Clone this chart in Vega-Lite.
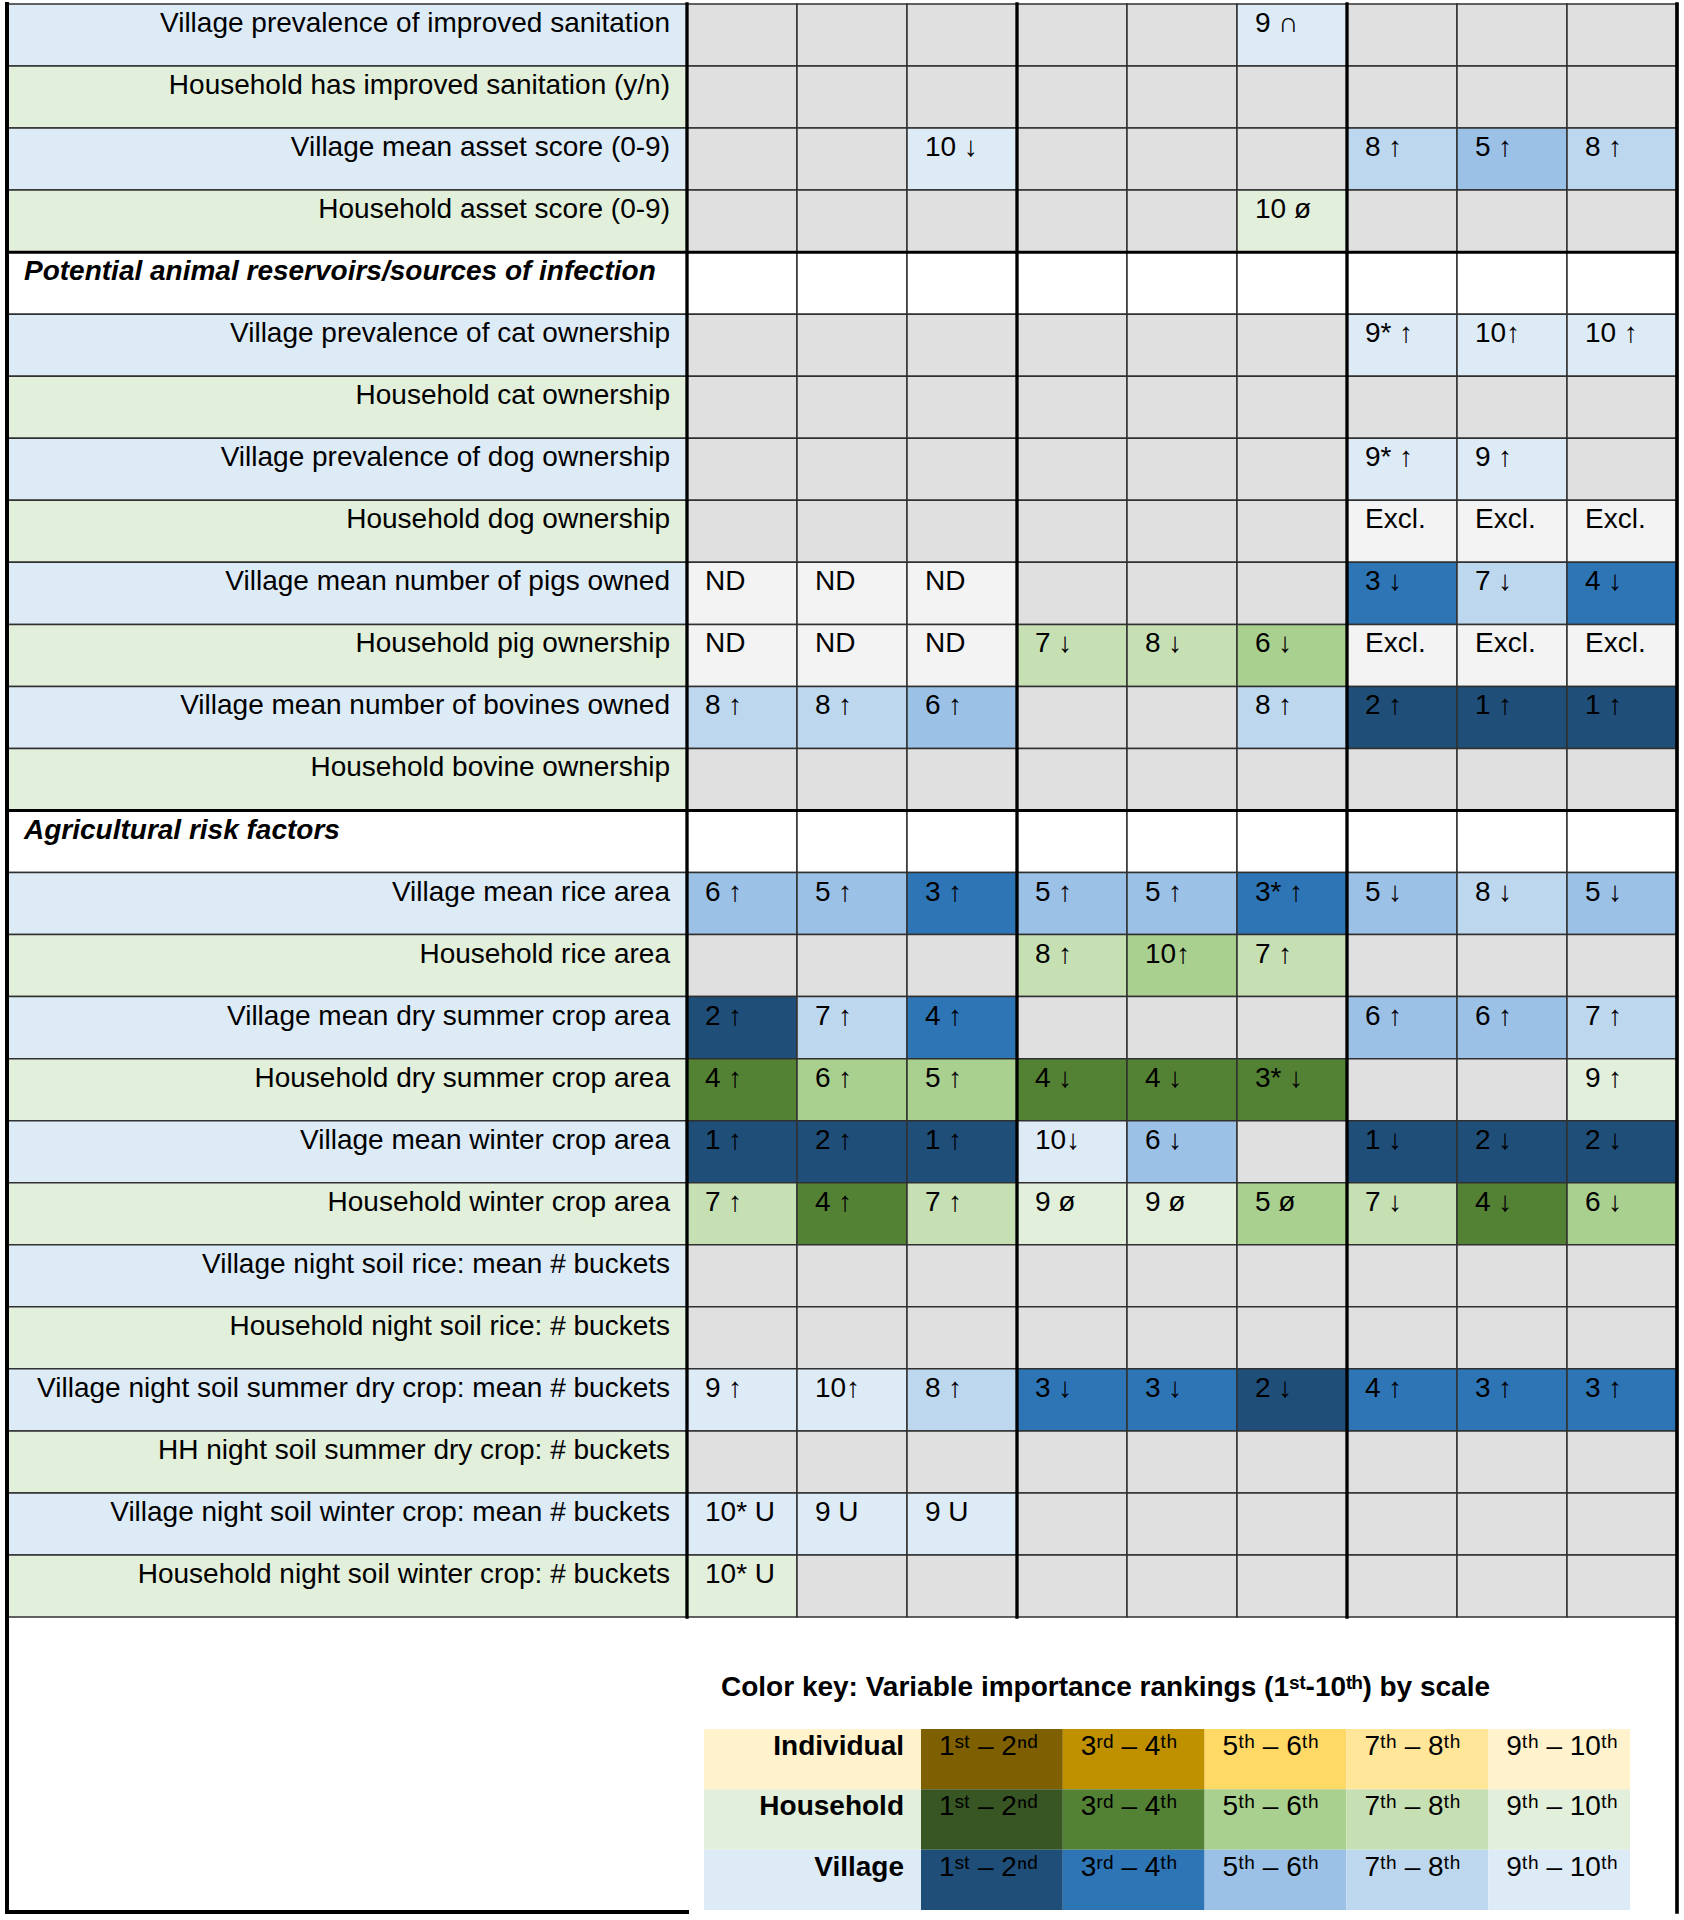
{
"$schema": "https://vega.github.io/schema/vega-lite/v6.json",
"width": 1684, "height": 1920, "padding": 0, "autosize": "none", "background": "white",
"config": {"view": {"stroke": null}, "font": "Liberation Sans", "axis": {"disable": true}, "legend": {"disable": true}},
"datasets": {
"rows": [
{"r":1,"label":"Village prevalence of improved sanitation","g":"V"},
{"r":2,"label":"Household has improved sanitation (y/n)","g":"H"},
{"r":3,"label":"Village mean asset score (0-9)","g":"V"},
{"r":4,"label":"Household asset score (0-9)","g":"H"},
{"r":5,"label":"Potential animal reservoirs/sources of infection","g":"W"},
{"r":6,"label":"Village prevalence of cat ownership","g":"V"},
{"r":7,"label":"Household cat ownership","g":"H"},
{"r":8,"label":"Village prevalence of dog ownership","g":"V"},
{"r":9,"label":"Household dog ownership","g":"H"},
{"r":10,"label":"Village mean number of pigs owned","g":"V"},
{"r":11,"label":"Household pig ownership","g":"H"},
{"r":12,"label":"Village mean number of bovines owned","g":"V"},
{"r":13,"label":"Household bovine ownership","g":"H"},
{"r":14,"label":"Agricultural risk factors","g":"W"},
{"r":15,"label":"Village mean rice area","g":"V"},
{"r":16,"label":"Household rice area","g":"H"},
{"r":17,"label":"Village mean dry summer crop area","g":"V"},
{"r":18,"label":"Household dry summer crop area","g":"H"},
{"r":19,"label":"Village mean winter crop area","g":"V"},
{"r":20,"label":"Household winter crop area","g":"H"},
{"r":21,"label":"Village night soil rice: mean # buckets","g":"V"},
{"r":22,"label":"Household night soil rice: # buckets","g":"H"},
{"r":23,"label":"Village night soil summer dry crop: mean # buckets","g":"V"},
{"r":24,"label":"HH night soil summer dry crop: # buckets","g":"H"},
{"r":25,"label":"Village night soil winter crop: mean # buckets","g":"V"},
{"r":26,"label":"Household night soil winter crop: # buckets","g":"H"}
],
"cells": [
{"r":1,"c":1,"k":"NA"},{"r":1,"c":2,"k":"NA"},{"r":1,"c":3,"k":"NA"},{"r":1,"c":4,"k":"NA"},{"r":1,"c":5,"k":"NA"},{"r":1,"c":6,"k":"V9","t":"9 ∩"},{"r":1,"c":7,"k":"NA"},{"r":1,"c":8,"k":"NA"},{"r":1,"c":9,"k":"NA"},
{"r":2,"c":1,"k":"NA"},{"r":2,"c":2,"k":"NA"},{"r":2,"c":3,"k":"NA"},{"r":2,"c":4,"k":"NA"},{"r":2,"c":5,"k":"NA"},{"r":2,"c":6,"k":"NA"},{"r":2,"c":7,"k":"NA"},{"r":2,"c":8,"k":"NA"},{"r":2,"c":9,"k":"NA"},
{"r":3,"c":1,"k":"NA"},{"r":3,"c":2,"k":"NA"},{"r":3,"c":3,"k":"V9","t":"10 ↓"},{"r":3,"c":4,"k":"NA"},{"r":3,"c":5,"k":"NA"},{"r":3,"c":6,"k":"NA"},{"r":3,"c":7,"k":"V7","t":"8 ↑"},{"r":3,"c":8,"k":"V5","t":"5 ↑"},{"r":3,"c":9,"k":"V7","t":"8 ↑"},
{"r":4,"c":1,"k":"NA"},{"r":4,"c":2,"k":"NA"},{"r":4,"c":3,"k":"NA"},{"r":4,"c":4,"k":"NA"},{"r":4,"c":5,"k":"NA"},{"r":4,"c":6,"k":"H9","t":"10 ø"},{"r":4,"c":7,"k":"NA"},{"r":4,"c":8,"k":"NA"},{"r":4,"c":9,"k":"NA"},
{"r":5,"c":1,"k":"W"},{"r":5,"c":2,"k":"W"},{"r":5,"c":3,"k":"W"},{"r":5,"c":4,"k":"W"},{"r":5,"c":5,"k":"W"},{"r":5,"c":6,"k":"W"},{"r":5,"c":7,"k":"W"},{"r":5,"c":8,"k":"W"},{"r":5,"c":9,"k":"W"},
{"r":6,"c":1,"k":"NA"},{"r":6,"c":2,"k":"NA"},{"r":6,"c":3,"k":"NA"},{"r":6,"c":4,"k":"NA"},{"r":6,"c":5,"k":"NA"},{"r":6,"c":6,"k":"NA"},{"r":6,"c":7,"k":"V9","t":"9* ↑"},{"r":6,"c":8,"k":"V9","t":"10↑"},{"r":6,"c":9,"k":"V9","t":"10 ↑"},
{"r":7,"c":1,"k":"NA"},{"r":7,"c":2,"k":"NA"},{"r":7,"c":3,"k":"NA"},{"r":7,"c":4,"k":"NA"},{"r":7,"c":5,"k":"NA"},{"r":7,"c":6,"k":"NA"},{"r":7,"c":7,"k":"NA"},{"r":7,"c":8,"k":"NA"},{"r":7,"c":9,"k":"NA"},
{"r":8,"c":1,"k":"NA"},{"r":8,"c":2,"k":"NA"},{"r":8,"c":3,"k":"NA"},{"r":8,"c":4,"k":"NA"},{"r":8,"c":5,"k":"NA"},{"r":8,"c":6,"k":"NA"},{"r":8,"c":7,"k":"V9","t":"9* ↑"},{"r":8,"c":8,"k":"V9","t":"9 ↑"},{"r":8,"c":9,"k":"NA"},
{"r":9,"c":1,"k":"NA"},{"r":9,"c":2,"k":"NA"},{"r":9,"c":3,"k":"NA"},{"r":9,"c":4,"k":"NA"},{"r":9,"c":5,"k":"NA"},{"r":9,"c":6,"k":"NA"},{"r":9,"c":7,"k":"ND","t":"Excl."},{"r":9,"c":8,"k":"ND","t":"Excl."},{"r":9,"c":9,"k":"ND","t":"Excl."},
{"r":10,"c":1,"k":"ND","t":"ND"},{"r":10,"c":2,"k":"ND","t":"ND"},{"r":10,"c":3,"k":"ND","t":"ND"},{"r":10,"c":4,"k":"NA"},{"r":10,"c":5,"k":"NA"},{"r":10,"c":6,"k":"NA"},{"r":10,"c":7,"k":"V3","t":"3 ↓"},{"r":10,"c":8,"k":"V7","t":"7 ↓"},{"r":10,"c":9,"k":"V3","t":"4 ↓"},
{"r":11,"c":1,"k":"ND","t":"ND"},{"r":11,"c":2,"k":"ND","t":"ND"},{"r":11,"c":3,"k":"ND","t":"ND"},{"r":11,"c":4,"k":"H7","t":"7 ↓"},{"r":11,"c":5,"k":"H7","t":"8 ↓"},{"r":11,"c":6,"k":"H5","t":"6 ↓"},{"r":11,"c":7,"k":"ND","t":"Excl."},{"r":11,"c":8,"k":"ND","t":"Excl."},{"r":11,"c":9,"k":"ND","t":"Excl."},
{"r":12,"c":1,"k":"V7","t":"8 ↑"},{"r":12,"c":2,"k":"V7","t":"8 ↑"},{"r":12,"c":3,"k":"V5","t":"6 ↑"},{"r":12,"c":4,"k":"NA"},{"r":12,"c":5,"k":"NA"},{"r":12,"c":6,"k":"V7","t":"8 ↑"},{"r":12,"c":7,"k":"V1","t":"2 ↑"},{"r":12,"c":8,"k":"V1","t":"1 ↑"},{"r":12,"c":9,"k":"V1","t":"1 ↑"},
{"r":13,"c":1,"k":"NA"},{"r":13,"c":2,"k":"NA"},{"r":13,"c":3,"k":"NA"},{"r":13,"c":4,"k":"NA"},{"r":13,"c":5,"k":"NA"},{"r":13,"c":6,"k":"NA"},{"r":13,"c":7,"k":"NA"},{"r":13,"c":8,"k":"NA"},{"r":13,"c":9,"k":"NA"},
{"r":14,"c":1,"k":"W"},{"r":14,"c":2,"k":"W"},{"r":14,"c":3,"k":"W"},{"r":14,"c":4,"k":"W"},{"r":14,"c":5,"k":"W"},{"r":14,"c":6,"k":"W"},{"r":14,"c":7,"k":"W"},{"r":14,"c":8,"k":"W"},{"r":14,"c":9,"k":"W"},
{"r":15,"c":1,"k":"V5","t":"6 ↑"},{"r":15,"c":2,"k":"V5","t":"5 ↑"},{"r":15,"c":3,"k":"V3","t":"3 ↑"},{"r":15,"c":4,"k":"V5","t":"5 ↑"},{"r":15,"c":5,"k":"V5","t":"5 ↑"},{"r":15,"c":6,"k":"V3","t":"3* ↑"},{"r":15,"c":7,"k":"V5","t":"5 ↓"},{"r":15,"c":8,"k":"V7","t":"8 ↓"},{"r":15,"c":9,"k":"V5","t":"5 ↓"},
{"r":16,"c":1,"k":"NA"},{"r":16,"c":2,"k":"NA"},{"r":16,"c":3,"k":"NA"},{"r":16,"c":4,"k":"H7","t":"8 ↑"},{"r":16,"c":5,"k":"H5","t":"10↑"},{"r":16,"c":6,"k":"H7","t":"7 ↑"},{"r":16,"c":7,"k":"NA"},{"r":16,"c":8,"k":"NA"},{"r":16,"c":9,"k":"NA"},
{"r":17,"c":1,"k":"V1","t":"2 ↑"},{"r":17,"c":2,"k":"V7","t":"7 ↑"},{"r":17,"c":3,"k":"V3","t":"4 ↑"},{"r":17,"c":4,"k":"NA"},{"r":17,"c":5,"k":"NA"},{"r":17,"c":6,"k":"NA"},{"r":17,"c":7,"k":"V5","t":"6 ↑"},{"r":17,"c":8,"k":"V5","t":"6 ↑"},{"r":17,"c":9,"k":"V7","t":"7 ↑"},
{"r":18,"c":1,"k":"H3","t":"4 ↑"},{"r":18,"c":2,"k":"H5","t":"6 ↑"},{"r":18,"c":3,"k":"H5","t":"5 ↑"},{"r":18,"c":4,"k":"H3","t":"4 ↓"},{"r":18,"c":5,"k":"H3","t":"4 ↓"},{"r":18,"c":6,"k":"H3","t":"3* ↓"},{"r":18,"c":7,"k":"NA"},{"r":18,"c":8,"k":"NA"},{"r":18,"c":9,"k":"H9","t":"9 ↑"},
{"r":19,"c":1,"k":"V1","t":"1 ↑"},{"r":19,"c":2,"k":"V1","t":"2 ↑"},{"r":19,"c":3,"k":"V1","t":"1 ↑"},{"r":19,"c":4,"k":"V9","t":"10↓"},{"r":19,"c":5,"k":"V5","t":"6 ↓"},{"r":19,"c":6,"k":"NA"},{"r":19,"c":7,"k":"V1","t":"1 ↓"},{"r":19,"c":8,"k":"V1","t":"2 ↓"},{"r":19,"c":9,"k":"V1","t":"2 ↓"},
{"r":20,"c":1,"k":"H7","t":"7 ↑"},{"r":20,"c":2,"k":"H3","t":"4 ↑"},{"r":20,"c":3,"k":"H7","t":"7 ↑"},{"r":20,"c":4,"k":"H9","t":"9 ø"},{"r":20,"c":5,"k":"H9","t":"9 ø"},{"r":20,"c":6,"k":"H5","t":"5 ø"},{"r":20,"c":7,"k":"H7","t":"7 ↓"},{"r":20,"c":8,"k":"H3","t":"4 ↓"},{"r":20,"c":9,"k":"H5","t":"6 ↓"},
{"r":21,"c":1,"k":"NA"},{"r":21,"c":2,"k":"NA"},{"r":21,"c":3,"k":"NA"},{"r":21,"c":4,"k":"NA"},{"r":21,"c":5,"k":"NA"},{"r":21,"c":6,"k":"NA"},{"r":21,"c":7,"k":"NA"},{"r":21,"c":8,"k":"NA"},{"r":21,"c":9,"k":"NA"},
{"r":22,"c":1,"k":"NA"},{"r":22,"c":2,"k":"NA"},{"r":22,"c":3,"k":"NA"},{"r":22,"c":4,"k":"NA"},{"r":22,"c":5,"k":"NA"},{"r":22,"c":6,"k":"NA"},{"r":22,"c":7,"k":"NA"},{"r":22,"c":8,"k":"NA"},{"r":22,"c":9,"k":"NA"},
{"r":23,"c":1,"k":"V9","t":"9 ↑"},{"r":23,"c":2,"k":"V9","t":"10↑"},{"r":23,"c":3,"k":"V7","t":"8 ↑"},{"r":23,"c":4,"k":"V3","t":"3 ↓"},{"r":23,"c":5,"k":"V3","t":"3 ↓"},{"r":23,"c":6,"k":"V1","t":"2 ↓"},{"r":23,"c":7,"k":"V3","t":"4 ↑"},{"r":23,"c":8,"k":"V3","t":"3 ↑"},{"r":23,"c":9,"k":"V3","t":"3 ↑"},
{"r":24,"c":1,"k":"NA"},{"r":24,"c":2,"k":"NA"},{"r":24,"c":3,"k":"NA"},{"r":24,"c":4,"k":"NA"},{"r":24,"c":5,"k":"NA"},{"r":24,"c":6,"k":"NA"},{"r":24,"c":7,"k":"NA"},{"r":24,"c":8,"k":"NA"},{"r":24,"c":9,"k":"NA"},
{"r":25,"c":1,"k":"V9","t":"10* U"},{"r":25,"c":2,"k":"V9","t":"9 U"},{"r":25,"c":3,"k":"V9","t":"9 U"},{"r":25,"c":4,"k":"NA"},{"r":25,"c":5,"k":"NA"},{"r":25,"c":6,"k":"NA"},{"r":25,"c":7,"k":"NA"},{"r":25,"c":8,"k":"NA"},{"r":25,"c":9,"k":"NA"},
{"r":26,"c":1,"k":"H9","t":"10* U"},{"r":26,"c":2,"k":"NA"},{"r":26,"c":3,"k":"NA"},{"r":26,"c":4,"k":"NA"},{"r":26,"c":5,"k":"NA"},{"r":26,"c":6,"k":"NA"},{"r":26,"c":7,"k":"NA"},{"r":26,"c":8,"k":"NA"},{"r":26,"c":9,"k":"NA"}
],
"legendRows": [{"s":"Individual","g":"I"},{"s":"Household","g":"H"},{"s":"Village","g":"V"}],
"legendCells": [
{"s":"Individual","b":1,"k":"I1","t":"1ˢᵗ – 2ⁿᵈ"},{"s":"Individual","b":2,"k":"I3","t":"3ʳᵈ – 4ᵗʰ"},{"s":"Individual","b":3,"k":"I5","t":"5ᵗʰ – 6ᵗʰ"},{"s":"Individual","b":4,"k":"I7","t":"7ᵗʰ – 8ᵗʰ"},{"s":"Individual","b":5,"k":"I9","t":"9ᵗʰ – 10ᵗʰ"},
{"s":"Household","b":1,"k":"H1","t":"1ˢᵗ – 2ⁿᵈ"},{"s":"Household","b":2,"k":"H3","t":"3ʳᵈ – 4ᵗʰ"},{"s":"Household","b":3,"k":"H5","t":"5ᵗʰ – 6ᵗʰ"},{"s":"Household","b":4,"k":"H7","t":"7ᵗʰ – 8ᵗʰ"},{"s":"Household","b":5,"k":"H9","t":"9ᵗʰ – 10ᵗʰ"},
{"s":"Village","b":1,"k":"V1","t":"1ˢᵗ – 2ⁿᵈ"},{"s":"Village","b":2,"k":"V3","t":"3ʳᵈ – 4ᵗʰ"},{"s":"Village","b":3,"k":"V5","t":"5ᵗʰ – 6ᵗʰ"},{"s":"Village","b":4,"k":"V7","t":"7ᵗʰ – 8ᵗʰ"},{"s":"Village","b":5,"k":"V9","t":"9ᵗʰ – 10ᵗʰ"}
],
"legendTitle": [{"title":"Color key: Variable importance rankings (1ˢᵗ-10ᵗʰ) by scale","s":"Individual"}],
"lines": [
{"kind":"outer","x":-1,"x2":-1,"y":0,"y2":27},
{"kind":"outerR","x":9,"x2":9,"y":0,"y2":27},
{"kind":"outer","x":-1,"x2":0,"y":27,"y2":27},
{"kind":"divider","x":0,"x2":0,"y":0,"y2":26},
{"kind":"divider","x":3,"x2":3,"y":0,"y2":26},
{"kind":"divider","x":6,"x2":6,"y":0,"y2":26},
{"kind":"header","x":-1,"x2":9,"y":4,"y2":4},
{"kind":"header","x":-1,"x2":9,"y":13,"y2":13}
]
},
"resolve": {"scale": {"x": "independent", "y": "independent", "fill": "independent", "strokeWidth": "independent"}},
"layer": [
{
"data": {"name": "rows"},
"encoding": {
"x": {"datum": "L", "type": "nominal", "axis": null, "scale": {"type": "band", "range": [7, 687], "paddingInner": 0, "paddingOuter": 0}},
"y": {"field": "r", "type": "ordinal", "axis": null, "scale": {"type": "band", "range": [4, 1617], "paddingInner": 0, "paddingOuter": 0}}
},
"layer": [
{"mark": {"type": "rect", "stroke": "#303030", "strokeWidth": 1.5},
 "encoding": {"fill": {"field": "g", "type": "nominal", "legend": null, "scale": {"domain": ["V", "H", "W"], "range": ["#DDEBF7", "#E2EFDA", "#FFFFFF"]}}}},
{"transform": [{"filter": "datum.g != 'W'"}],
 "mark": {"type": "text", "align": "right", "baseline": "alphabetic", "dx": -17, "dy": 28, "fontSize": 28, "font": "Liberation Sans", "color": "#000000"},
 "encoding": {"text": {"field": "label"}, "x": {"datum": "L", "type": "nominal", "bandPosition": 1}, "y": {"field": "r", "type": "ordinal", "bandPosition": 0}}},
{"transform": [{"filter": "datum.g == 'W'"}],
 "mark": {"type": "text", "align": "left", "baseline": "alphabetic", "dx": 17, "dy": 28, "fontSize": 28, "fontWeight": "bold", "fontStyle": "italic", "font": "Liberation Sans", "color": "#000000"},
 "encoding": {"text": {"field": "label"}, "x": {"datum": "L", "type": "nominal", "bandPosition": 0}, "y": {"field": "r", "type": "ordinal", "bandPosition": 0}}}
]
},
{
"data": {"name": "cells"},
"encoding": {
"x": {"field": "c", "type": "ordinal", "axis": null, "scale": {"type": "band", "range": [687, 1677], "paddingInner": 0, "paddingOuter": 0}},
"y": {"field": "r", "type": "ordinal", "axis": null, "scale": {"type": "band", "range": [4, 1617], "paddingInner": 0, "paddingOuter": 0}}
},
"layer": [
{"mark": {"type": "rect", "stroke": "#303030", "strokeWidth": 1.5},
 "encoding": {"fill": {"field": "k", "type": "nominal", "legend": null, "scale": {
   "domain": ["NA", "ND", "W", "V1", "V3", "V5", "V7", "V9", "H1", "H3", "H5", "H7", "H9"],
   "range": ["#E0E0E0", "#F3F3F3", "#FFFFFF", "#1F4E78", "#2E75B6", "#9BC2E6", "#BDD7EE", "#DDEBF7", "#375623", "#548235", "#A9D08E", "#C6E0B4", "#E2EFDA"]}}}},
{"transform": [{"filter": "datum.t"}],
 "mark": {"type": "text", "align": "left", "baseline": "alphabetic", "dx": 18, "dy": 28, "fontSize": 28, "font": "Liberation Sans", "color": "#000000"},
 "encoding": {"text": {"field": "t"}, "x": {"field": "c", "type": "ordinal", "bandPosition": 0}, "y": {"field": "r", "type": "ordinal", "bandPosition": 0}}}
]
},
{
"data": {"name": "legendRows"},
"encoding": {
"x": {"datum": "L", "type": "nominal", "axis": null, "scale": {"type": "band", "range": [704, 921], "paddingInner": 0, "paddingOuter": 0}},
"y": {"field": "s", "type": "nominal", "axis": null, "sort": ["Individual", "Household", "Village"], "scale": {"type": "band", "domain": ["Individual", "Household", "Village"], "range": [1729, 1910], "paddingInner": 0, "paddingOuter": 0}}
},
"layer": [
{"mark": {"type": "rect"},
 "encoding": {"fill": {"field": "g", "type": "nominal", "legend": null, "scale": {"domain": ["I", "H", "V"], "range": ["#FFF2CC", "#E2EFDA", "#DDEBF7"]}}}},
{"mark": {"type": "text", "align": "right", "baseline": "alphabetic", "dx": -17, "dy": 26, "fontSize": 28, "fontWeight": "bold", "font": "Liberation Sans", "color": "#000000"},
 "encoding": {"text": {"field": "s"}, "x": {"datum": "L", "type": "nominal", "bandPosition": 1}, "y": {"field": "s", "type": "nominal", "bandPosition": 0}}},
{"data": {"name": "legendTitle"},
 "mark": {"type": "text", "align": "left", "baseline": "alphabetic", "dx": 17, "dy": -33, "fontSize": 28, "fontWeight": "bold", "font": "Liberation Sans", "color": "#000000"},
 "encoding": {"text": {"field": "title"}, "x": {"datum": "L", "type": "nominal", "bandPosition": 0}, "y": {"field": "s", "type": "nominal", "bandPosition": 0}}}
]
},
{
"data": {"name": "legendCells"},
"encoding": {
"x": {"field": "b", "type": "ordinal", "axis": null, "scale": {"type": "band", "range": [921, 1630], "paddingInner": 0, "paddingOuter": 0}},
"y": {"field": "s", "type": "nominal", "axis": null, "sort": ["Individual", "Household", "Village"], "scale": {"type": "band", "domain": ["Individual", "Household", "Village"], "range": [1729, 1910], "paddingInner": 0, "paddingOuter": 0}}
},
"layer": [
{"mark": {"type": "rect"},
 "encoding": {"fill": {"field": "k", "type": "nominal", "legend": null, "scale": {
   "domain": ["I1", "I3", "I5", "I7", "I9", "H1", "H3", "H5", "H7", "H9", "V1", "V3", "V5", "V7", "V9"],
   "range": ["#7F6000", "#BF9000", "#FFD966", "#FFE699", "#FFF2CC", "#375623", "#548235", "#A9D08E", "#C6E0B4", "#E2EFDA", "#1F4E78", "#2E75B6", "#9BC2E6", "#BDD7EE", "#DDEBF7"]}}}},
{"mark": {"type": "text", "align": "left", "baseline": "alphabetic", "dx": 18, "dy": 26, "fontSize": 28, "font": "Liberation Sans", "color": "#000000"},
 "encoding": {"text": {"field": "t"}, "x": {"field": "b", "type": "ordinal", "bandPosition": 0}, "y": {"field": "s", "type": "nominal", "bandPosition": 0}}}
]
},
{
"data": {"name": "lines"},
"mark": {"type": "rule", "color": "#000000", "strokeCap": "square"},
"encoding": {
"x": {"field": "x", "type": "quantitative", "axis": null, "scale": {"type": "linear", "domain": [-1, 0, 9], "range": [7, 687, 1677], "zero": false, "nice": false}},
"x2": {"field": "x2"},
"y": {"field": "y", "type": "quantitative", "axis": null, "scale": {"type": "linear", "domain": [0, 26, 27], "range": [4, 1617, 1912], "zero": false, "nice": false}},
"y2": {"field": "y2"},
"strokeWidth": {"field": "kind", "type": "nominal", "legend": null, "scale": {"domain": ["outer", "outerR", "divider", "header"], "range": [4, 3, 4, 5]}}
}
}
]
}
